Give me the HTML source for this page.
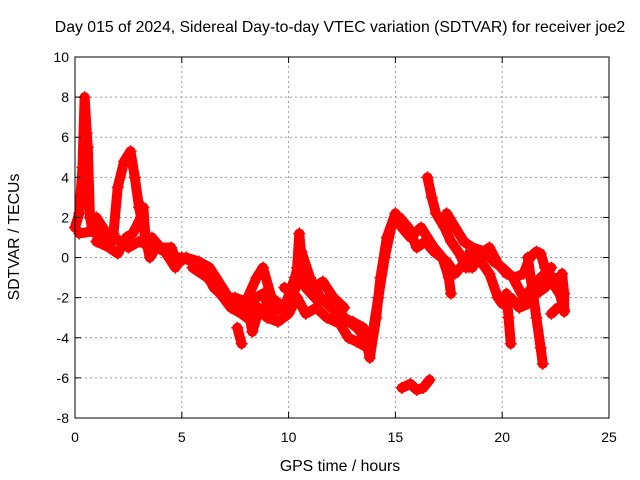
<!DOCTYPE html>
<html><head><meta charset="utf-8"><style>
body{margin:0;background:#fff;}
svg{display:block;font-family:"Liberation Sans",Arial,sans-serif;}
</style></head><body>
<svg id="chart" width="640" height="480">
<text x="340" y="32" text-anchor="middle" font-size="15.8">Day 015 of 2024, Sidereal Day-to-day VTEC variation (SDTVAR) for receiver joe2</text>
<text x="340" y="471" text-anchor="middle" font-size="15.8">GPS time / hours</text>
<text transform="translate(19,237) rotate(-90)" text-anchor="middle" font-size="15.8">SDTVAR / TECUs</text>
<g id="grid"></g>
<g id="series"></g>
<rect x="75" y="57" width="534" height="361" fill="none" stroke="#000" stroke-width="1"/>
<g id="ticks"></g>
</svg>
<script>
const xTicks=[0,5,10,15,20,25];
const yTicks=[-8,-6,-4,-2,0,2,4,6,8,10];
const track1=[[0,1.5],[0.2,2.2],[0.35,4.5],[0.45,8],[0.55,6.2],[0.6,5.5],[0.7,2],[0.8,1.5],[1.0,2],[1.3,1.5],[1.6,0.8],[2.0,0.9],[2.5,0.5],[3.0,0.8],[3.5,0.6],[4.0,0.5],[4.5,0],[5,0],[5.5,-0.2],[6,-0.5],[6.5,-1.5],[7,-2],[7.5,-2],[8,-2.2],[8.5,-1],[8.8,-0.5],[9.2,-2],[9.8,-2.5],[10.3,-1],[10.6,0.3],[11,-1],[11.5,-2],[12,-2.5],[12.5,-3],[13,-3.2],[13.5,-3.5],[13.8,-5],[14.1,-3],[14.3,-1],[14.6,1],[15,2.2],[15.3,1.5],[15.7,1],[16.2,1.5],[16.8,0.5],[17.2,0],[17.5,-1],[17.6,-1.8]];
const track2=[[0.2,1.2],[0.8,1.3],[1.4,1],[1.8,1.2],[2.0,3.5],[2.3,4.8],[2.6,5.3],[2.8,4],[3.0,2.5],[3.2,1.5],[3.4,0.5],[3.6,1],[4.0,0.5],[4.5,0.5],[4.8,-0.3],[5.2,0],[5.8,-0.2],[6.3,-0.5],[6.6,-1],[7.2,-2],[8,-2.5],[8.5,-2],[8.8,-1.8],[9.2,-2.8],[9.6,-2.5],[10,-2.5],[10.5,-1],[10.8,-1.5],[11.4,-2.2],[12,-2],[12.6,-3],[13.2,-3.5],[13.6,-4],[13.9,-4],[14.2,-2],[14.5,0],[14.8,1.5],[15.2,2],[15.6,1.5],[16,0.5],[16.4,0.8],[16.8,0.3],[17.4,-0.2],[17.8,-0.8],[18.2,-0.3],[18.6,0.5],[19.2,0.3],[19.6,-0.2],[20,-0.5],[20.5,-1],[21,-2],[21.4,-1.5],[21.8,-1],[22.3,-0.5]];
const track3=[[1,0.8],[1.6,0.5],[2.0,0.2],[2.4,1],[2.7,1.2],[3.0,1.8],[3.2,2.5],[3.3,1],[3.5,0],[3.8,0.5],[4.2,0.3],[4.7,-0.5]];
const track4=[[16.5,4],[16.7,3],[16.9,2.2],[17.3,1.5],[17.6,0.8],[18,0.2],[18.3,-0.5],[18.6,-0.5],[19,0.2],[19.4,0.5],[19.8,-0.3],[20.2,-0.8],[20.6,-1],[21,-0.8],[21.3,0],[21.6,0.3],[21.8,0.2],[22,-0.5],[22.5,-1.5],[22.8,-2]];
const track5=[[17.4,2.2],[17.8,1.5],[18.2,0.8],[18.6,0.5],[19,-0.2],[19.4,-0.8],[19.8,-2],[20,-2.3],[20.4,-2],[20.8,-2.5],[21.2,-2.3],[21.6,-1.8],[22,-1.5],[22.4,-1],[22.7,-1.8],[22.9,-2.7]];
const track6=[[21.2,0],[21.4,-1.5],[21.6,-3],[21.8,-4.5],[21.9,-5.3]];
const track7=[[20.2,-1.8],[20.3,-3],[20.4,-4.3]];
const track8=[[15.3,-6.5],[15.7,-6.3],[16.0,-6.6],[16.3,-6.5],[16.6,-6.1]];
const track9=[[7.6,-3.5],[7.8,-4.3]];
const track10=[[22.3,-2.8],[22.6,-2.5]];
const track11=[[22.8,-0.8],[22.9,-1.8],[22.9,-2.6]];
const track12=[[10.4,-0.5],[10.5,1.2],[10.6,0]];
const track13=[[5.5,-0.5],[6.2,-1],[6.8,-1.8],[7.3,-2.5],[7.8,-2.8],[8.3,-3.2],[8.6,-2.5],[9,-3],[9.5,-3.2],[10,-2.8],[10.4,-2],[10.8,-2.8],[11.3,-2.5],[11.8,-3],[12.4,-3.3],[12.8,-4],[13.2,-4.2],[13.7,-4.5]];
const track14=[[9.8,-1.5],[10.2,-1.8],[10.7,-0.5],[11.2,-1.5],[11.6,-1.2],[12.1,-2],[12.6,-2.5]];
const track15=[[8.1,-2.5],[8.3,-3.7],[8.5,-3]];
const tracks=[track1,track2,track3,track4,track5,track6,track7,track8,track9,track10,track11,track12,track13,track14,track15];
const NS='http://www.w3.org/2000/svg';
const X0=75,X1=609,Y0=418,Y1=57;
const sx=t=>X0+(t-0)/(25-0)*(X1-X0);
const sy=v=>Y0-(v+8)/(18)*(Y0-Y1);
function mk(tag,attrs,parent){const e=document.createElementNS(NS,tag);for(const k in attrs)e.setAttribute(k,attrs[k]);parent.appendChild(e);return e;}
const grid=document.getElementById('grid'),ticks=document.getElementById('ticks'),ser=document.getElementById('series');
xTicks.forEach(t=>{const x=sx(t);
 if(t>0&&t<25){const l=mk('line',{x1:x,x2:x,y1:Y0,y2:Y1,stroke:'#999','stroke-dasharray':'2,3'},grid);
 
 }
 mk('line',{x1:x,x2:x,y1:Y0,y2:Y0-6,stroke:'#000'},ticks);
 mk('line',{x1:x,x2:x,y1:Y1,y2:Y1+6,stroke:'#000'},ticks);
 const tx=mk('text',{x:x,y:Y0+24,'text-anchor':'middle','font-size':'14'},ticks);tx.textContent=t;
 
 });
yTicks.forEach(v=>{const y=sy(v);
 if(v>-8&&v<10){const l=mk('line',{x1:X0,x2:X1,y1:y,y2:y,stroke:'#999','stroke-dasharray':'2,3'},grid);
 
 }
 mk('line',{x1:X0,x2:X0+6,y1:y,y2:y,stroke:'#000'},ticks);
 mk('line',{x1:X1,x2:X1-6,y1:y,y2:y,stroke:'#000'},ticks);
 const tx=mk('text',{x:X0-6,y:y+5,'text-anchor':'end','font-size':'14'},ticks);tx.textContent=v;
 
 });
tracks.forEach(tr=>{
 const p=mk('polyline',{points:tr.map(d=>sx(d[0])+','+sy(d[1])).join(' '),fill:'none',stroke:'#f00','stroke-width':10,'stroke-linejoin':'round','stroke-linecap':'round'},ser);
 
 
 tr.forEach(d=>{const x=sx(d[0]),y=sy(d[1]);
  const m=mk('path',{d:`M${x-6},${y}h12M${x},${y-6}v12`,stroke:'#f00','stroke-width':1.5},ser);
  
  });
});
</script>
</body></html>
